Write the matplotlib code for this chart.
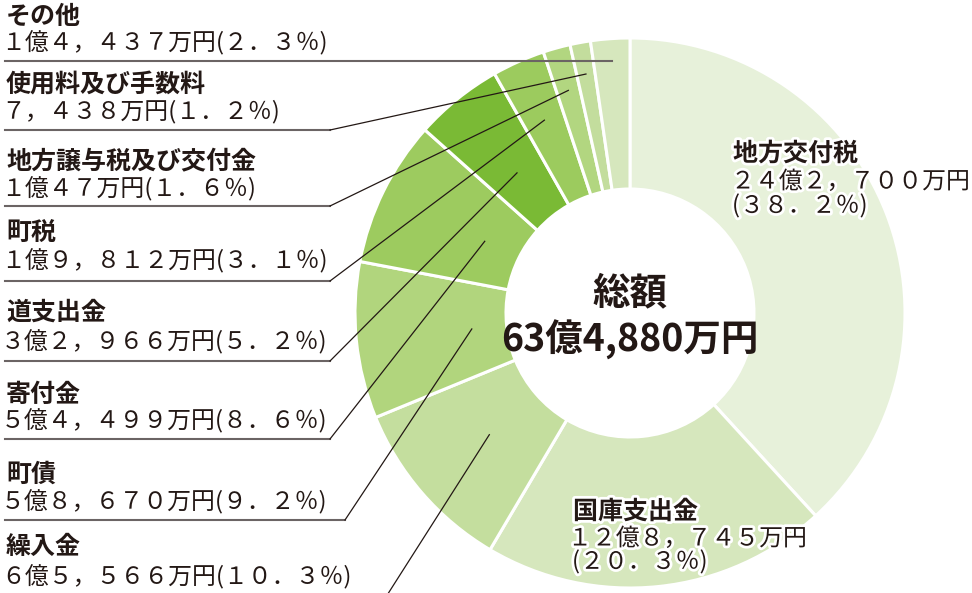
import matplotlib
matplotlib.use('Agg')
import numpy as np
import matplotlib.pyplot as plt
import matplotlib.patheffects as pe

plt.rcParams['font.family'] = ['Noto Sans CJK JP', 'DejaVu Sans']

# revenue breakdown, clockwise from the top
names = ['地方交付税', '国庫支出金', '繰入金', '町債', '寄付金', '道支出金',
         '町税', '地方譲与税及び交付金', '使用料及び手数料', 'その他']
amounts = ['２４億２，７００万円', '１２億８，７４５万円', '６億５，５６６万円',
           '５億８，６７０万円', '５億４，４９９万円', '３億２，９６６万円',
           '１億９，８１２万円', '１億４７万円', '７，４３８万円', '１億４，４３７万円']
shares = [38.2, 20.3, 10.3, 9.2, 8.6, 5.2, 3.1, 1.6, 1.2, 2.3]
colors = ['#e7f1da', '#d6e7bd', '#c4de9e', '#b1d57d', '#9dcb5f', '#7aba35',
          '#9ccb5e', '#b2d680', '#c3dd9d', '#d6e7bd']
total_title = '総額'
total_value = '63億4,880万円'

FW = str.maketrans('0123456789.', '０１２３４５６７８９．')


def pct(s):
    return '(' + f'{s:.1f}'.translate(FW) + '％)'


W, H = 972, 593
INK = '#231815'
cx, cy = 630, H - 313
R, RING = 275, 151
NAME_FS, NUM_FS = 18, 17.2

fig = plt.figure(figsize=(W / 100, H / 100), dpi=100)
ax = fig.add_axes([0, 0, 1, 1])

wedges, _ = ax.pie(shares, colors=colors, startangle=90, counterclock=False,
                   center=(cx, cy), radius=R,
                   wedgeprops=dict(width=RING, edgecolor='white', linewidth=2.2))
ax.set_xlim(0, W)
ax.set_ylim(0, H)
ax.set_aspect('auto')
ax.axis('off')

# left side labels: (slice index, name y, amount y, underline y, elbow x, leader radius)
left = [
    (9, 17, 43, 61, None, 253),
    (8, 85, 112, 130, 330, 243),
    (7, 162, 189, 206, 330, 231),
    (6, 233, 261, 281, 330, 211),
    (5, 313, 342, 361, 330, 180),
    (4, 395, 421, 439, 330, 162),
    (3, 475, 502, 520, 345, 159),
    (2, 547, 577, 600, 384, 186),
]

for i, ny, ay, uy, ex, r in left:
    w = wedges[i]
    th = np.deg2rad((w.theta1 + w.theta2) / 2)
    px, py = cx + r * np.cos(th), cy + r * np.sin(th)
    ax.text(6, H - ny, names[i], fontsize=NAME_FS, fontweight='bold', color=INK,
            ha='left', va='center')
    ax.text(1, H - ay, amounts[i] + pct(shares[i]), fontsize=NUM_FS, color=INK,
            ha='left', va='center')
    if ex is None:
        ax.plot([5, px], [py, py], color='#6b6464', lw=1.5, zorder=5)
    else:
        ax.plot([5, ex], [H - uy, H - uy], color='#6b6464', lw=1.5, zorder=5)
        ax.plot([ex, px], [H - uy, py], color=INK, lw=0.9, zorder=5)

# labels inside the ring
halo = [pe.withStroke(linewidth=4, foreground='white')]
inner = [(0, 733, 154, 731, 182, 732, 206), (1, 573, 512, 568, 539, 572, 562)]
for i, nx, ny, ax_, ay, px_, py_ in inner:
    ax.text(nx, H - ny, names[i], fontsize=NAME_FS, fontweight='bold', color=INK,
            ha='left', va='center', path_effects=halo)
    ax.text(ax_, H - ay, amounts[i], fontsize=NUM_FS, color=INK,
            ha='left', va='center', path_effects=halo)
    ax.text(px_, H - py_, pct(shares[i]), fontsize=NUM_FS, color=INK,
            ha='left', va='center', path_effects=halo)

ax.text(cx, H - 293, total_title, fontsize=27, fontweight='bold', color=INK,
        ha='center', va='center')
ax.text(cx, H - 340, total_value, fontsize=27, fontweight='bold', color=INK,
        ha='center', va='center')

fig.savefig('out.png', dpi=100)
